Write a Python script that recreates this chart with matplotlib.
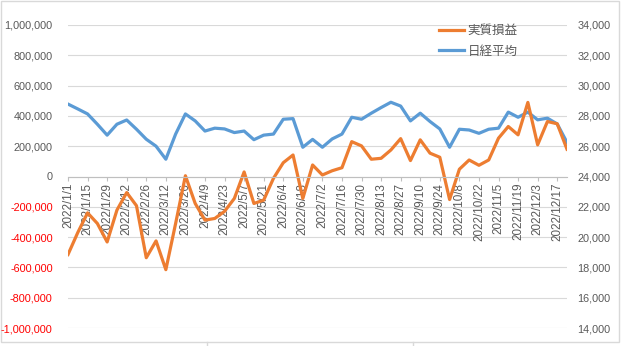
import numpy as np
import pandas as pd
import matplotlib
matplotlib.use("Agg")
import matplotlib.pyplot as plt
from matplotlib.lines import Line2D

plt.rcParams['font.family'] = ['Liberation Sans', 'Noto Sans CJK JP', 'DejaVu Sans']

# weekly dates, 2022/1/1 .. 2022/12/24
dates = pd.date_range('2022-01-01', periods=52, freq='7D')
labels = [f"{d.year}/{d.month}/{d.day}" for d in dates]

# 実質損益 (left axis)
pnl = [-515000, -370000, -240000, -310000, -432000, -222000, -106000, -193000,
       -536000, -425000, -615000, -310000, 5000, -178000, -288000, -277000,
       -230000, -145000, 30000, -178000, -156000, -12000, 91000, 142000,
       -145000, 76000, 10000, 38000, 58000, 230000, 202000, 114000,
       120000, 175000, 250000, 105000, 242000, 154000, 127000, -152000,
       48000, 109000, 74000, 109000, 253000, 330000, 275000, 489000,
       209000, 363000, 348000, 180000]

# 日経平均 (right axis)
nikkei = [28780, 28460, 28130, 27450, 26730, 27450, 27730, 27120,
          26460, 26000, 25140, 26800, 28130, 27670, 27000, 27190,
          27140, 26900, 27000, 26430, 26730, 26800, 27780, 27820,
          25930, 26450, 25930, 26480, 26800, 27910, 27780, 28180,
          28550, 28900, 28650, 27670, 28180, 27630, 27140, 25930,
          27120, 27070, 26850, 27120, 27190, 28250, 27910, 28250,
          27740, 27850, 27470, 26250]

orange = '#ED7D31'
blue = '#5B9BD5'
grid_c = '#D9D9D9'
txt_c = '#595959'

x = np.arange(len(dates))

fig = plt.figure(figsize=(6.21, 3.46), dpi=100)
ax = fig.add_axes([68/621, 1-328/346, (567-68)/621, (328-25)/346])
ax2 = ax.twinx()

ax2.plot(x, nikkei, color=blue, lw=2.3, solid_joinstyle='round')
ax.plot(x, pnl, color=orange, lw=2.3, solid_joinstyle='round')
ax.set_zorder(2)
ax.patch.set_visible(False)

# spines first (set_position resets the ticks)
for s in ['top', 'left', 'right']:
    ax.spines[s].set_visible(False)
    ax2.spines[s].set_visible(False)
ax2.spines['bottom'].set_visible(False)
ax.spines['bottom'].set_position(('data', 0))
ax.spines['bottom'].set_color('#BFBFBF')
ax.spines['bottom'].set_linewidth(0.8)

ax.set_xlim(0, len(x) - 1)
ax.set_ylim(-1000000, 1000000)
ax2.set_ylim(14000, 34000)

lticks = np.arange(-1000000, 1000001, 200000)
ax.set_yticks(lticks)
ax.set_yticklabels([f"{v:,}" for v in lticks])
for t, v in zip(ax.get_yticklabels(), lticks):
    t.set_color('#FF0000' if v < 0 else txt_c)
rticks = np.arange(14000, 34001, 2000)
ax2.set_yticks(rticks)
ax2.set_yticklabels([f"{v:,}" for v in rticks], color=txt_c)

ax.tick_params(axis='y', length=0, pad=11, labelsize=7.8)
ax2.tick_params(axis='y', length=0, pad=7.5, labelsize=7.8)

ax2.grid(axis='y', color=grid_c, lw=0.8)
ax2.set_axisbelow(True)

ax.set_xticks(x[::2])
ax.set_xticklabels(labels[::2])
ax.tick_params(axis='x', direction='out', length=3, color='#BFBFBF',
               width=0.8, pad=1.5, labelsize=8.4, labelcolor=txt_c,
               labelrotation=90)
for t in ax.get_xticklabels():
    t.set_verticalalignment('top')

handles = [Line2D([], [], color=orange, lw=2.3), Line2D([], [], color=blue, lw=2.3)]
leg = fig.legend(handles, ['実質損益', '日経平均'], loc='upper left',
                 bbox_to_anchor=(428/621, 1-13/346), frameon=False,
                 handlelength=2.0, handletextpad=0.25, labelspacing=0.6,
                 prop={'family': ['Noto Sans CJK JP'], 'size': 9})
for t in leg.get_texts():
    t.set_color(txt_c)

# chart area border
fig.add_artist(plt.Rectangle((1/621, 4/346), 618/621, 1-4.5/346, transform=fig.transFigure,
                             fill=False, edgecolor=grid_c, lw=1))
for px in (207, 413):
    fig.add_artist(Line2D([px/621, px/621], [0, 4/346], transform=fig.transFigure,
                          color=grid_c, lw=1))

fig.savefig('out.png', dpi=100)
